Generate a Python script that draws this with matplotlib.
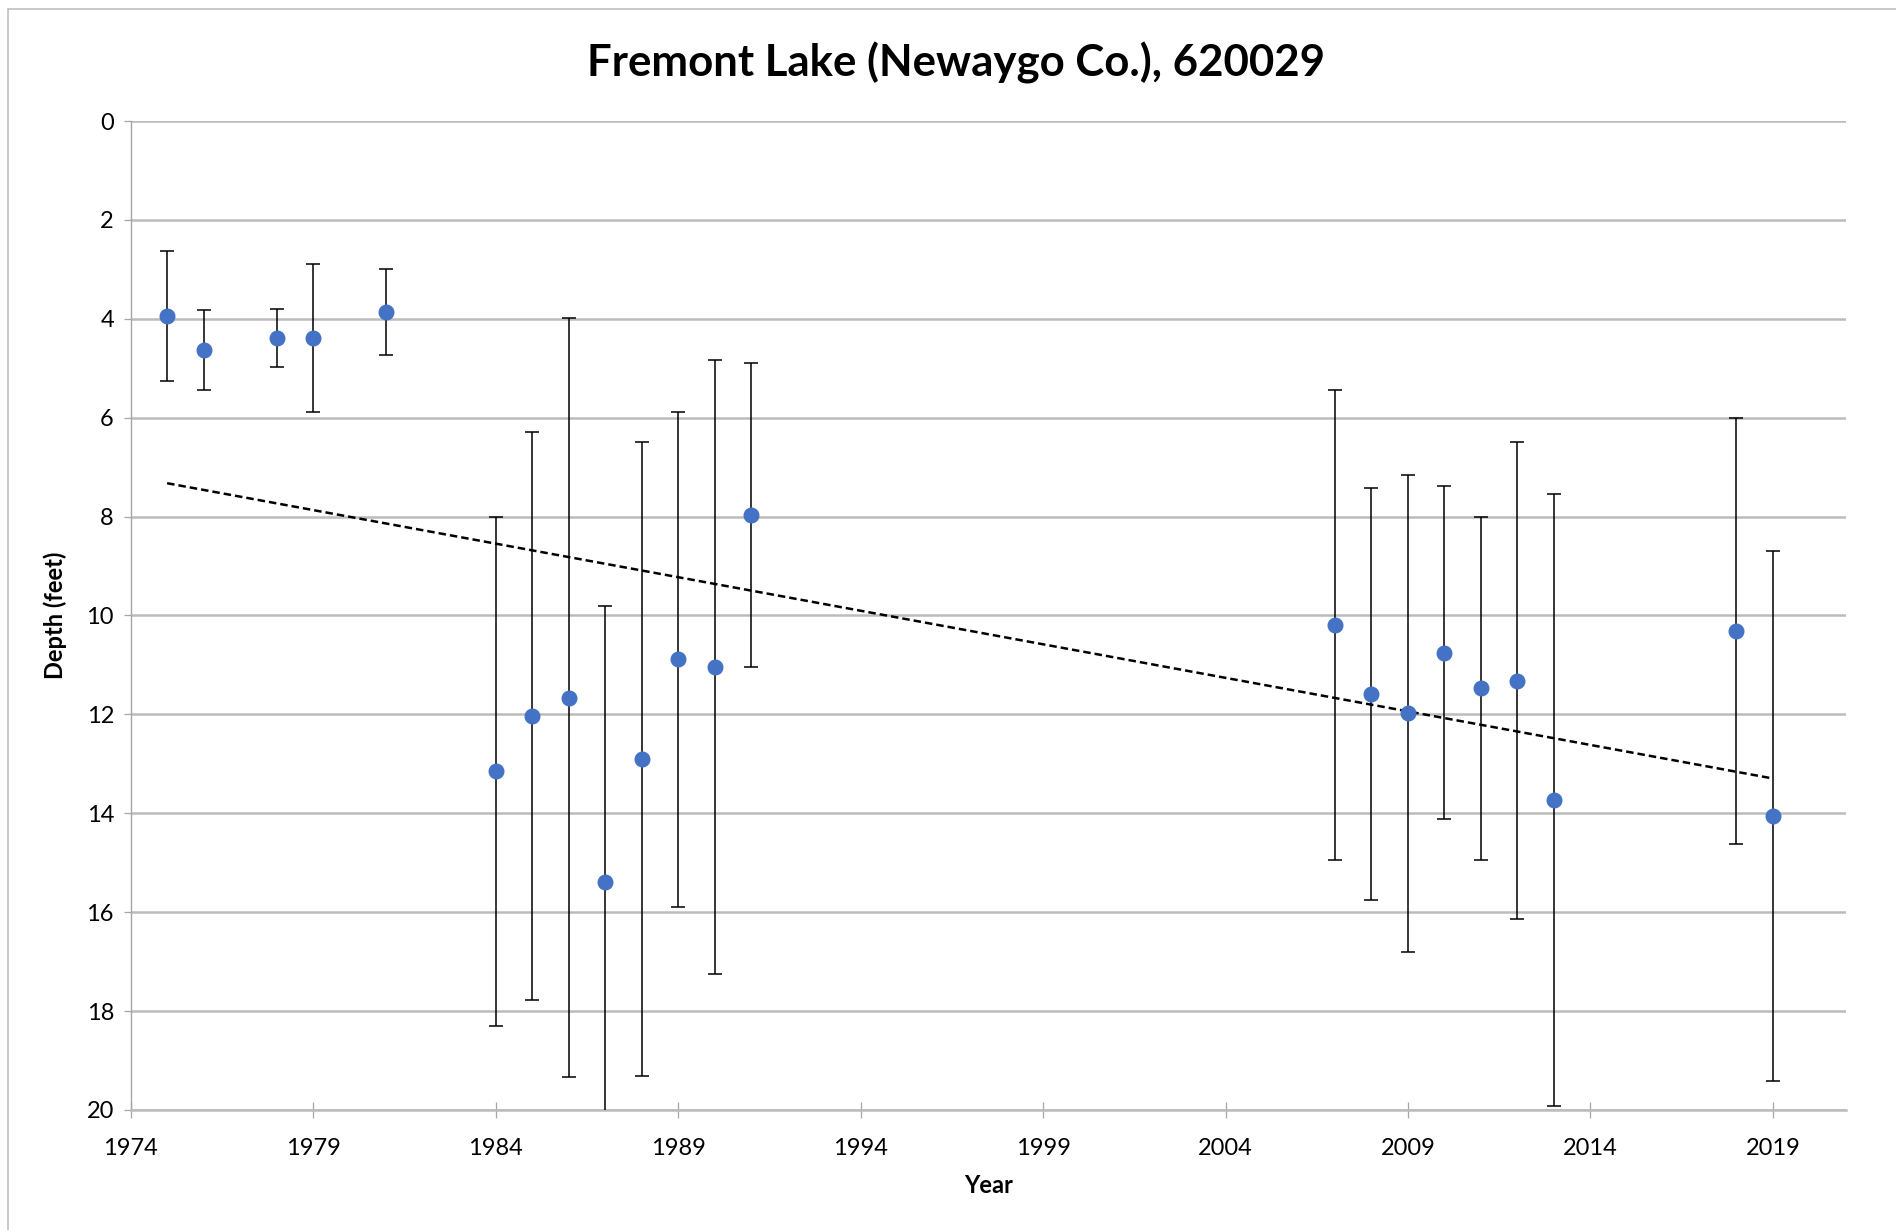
import numpy as np
import matplotlib
matplotlib.use("Agg")
from matplotlib import pyplot as plt
from matplotlib.patches import Rectangle

plt.rcParams['font.family'] = ['Lato', 'DejaVu Sans']

# Secchi depth readings, mean and standard deviation (feet)
years = [1975, 1976, 1978, 1979, 1981, 1984, 1985, 1986, 1987, 1988, 1989,
         1990, 1991, 2007, 2008, 2009, 2010, 2011, 2012, 2013, 2018, 2019]
depth = [3.94, 4.63, 4.39, 4.39, 3.87, 13.15, 12.03, 11.66, 15.38, 12.91, 10.89,
         11.05, 7.97, 10.19, 11.59, 11.98, 10.75, 11.47, 11.32, 13.74, 10.32, 14.06]
stdev = [1.32, 0.80, 0.58, 1.50, 0.87, 5.15, 5.75, 7.67, 5.58, 6.41, 5.00,
         6.21, 3.08, 4.76, 4.16, 4.82, 3.37, 3.47, 4.82, 6.19, 4.31, 5.36]

x_ticks = list(range(1974, 2020, 5))
y_ticks = list(range(0, 21, 2))

fig = plt.figure(figsize=(18.96, 12.30), dpi=100)
ax = fig.add_axes([0.0689, 0.0976, 0.9047, 0.804])

grid_col = '#bcbcbc'
for yv in y_ticks:
    ax.axhline(yv, color=grid_col, lw=1.8, zorder=0)

ax.errorbar(years, depth, yerr=stdev, fmt='o', color='#4472c4', markersize=10.5,
            ecolor='black', elinewidth=1.1, capsize=5, capthick=1.1, zorder=3)

# linear trendline
coef = np.polyfit(years, depth, 1)
tx = np.array([years[0], years[-1]])
ax.plot(tx, np.polyval(coef, tx), color='black', ls=(0, (3, 1.6)), lw=1.8, zorder=2)

ax.set_xlim(1974, 2021)
ax.set_ylim(20, 0)
ax.set_xticks(x_ticks)
ax.set_yticks(y_ticks)
ax.tick_params(axis='x', direction='inout', length=12, width=0.9, color='#a6a6a6',
               labelsize=17, pad=14)
ax.tick_params(axis='y', direction='out', length=5, width=0.9, color='#a6a6a6',
               labelsize=17, pad=7)
for s in ['top', 'right']:
    ax.spines[s].set_visible(False)
ax.spines['left'].set_color('#a6a6a6')
ax.spines['left'].set_linewidth(1.0)
ax.spines['bottom'].set_color(grid_col)
ax.spines['bottom'].set_linewidth(1.8)

ax.set_xlabel('Year', fontsize=17, fontweight='bold', labelpad=11)
ax.set_ylabel('Depth (feet)', fontsize=17, fontweight='bold', labelpad=14)
fig.text(0.504, 0.949, 'Fremont Lake (Newaygo Co.), 620029', ha='center', va='center',
         fontsize=31.5, fontweight='bold')

# chart frame
fig.patches.append(Rectangle((0.004, -0.05), 1.1, 1.043, transform=fig.transFigure,
                             fill=False, edgecolor='#bfbfbf', lw=1.2))

fig.savefig('out.png', dpi=100)
